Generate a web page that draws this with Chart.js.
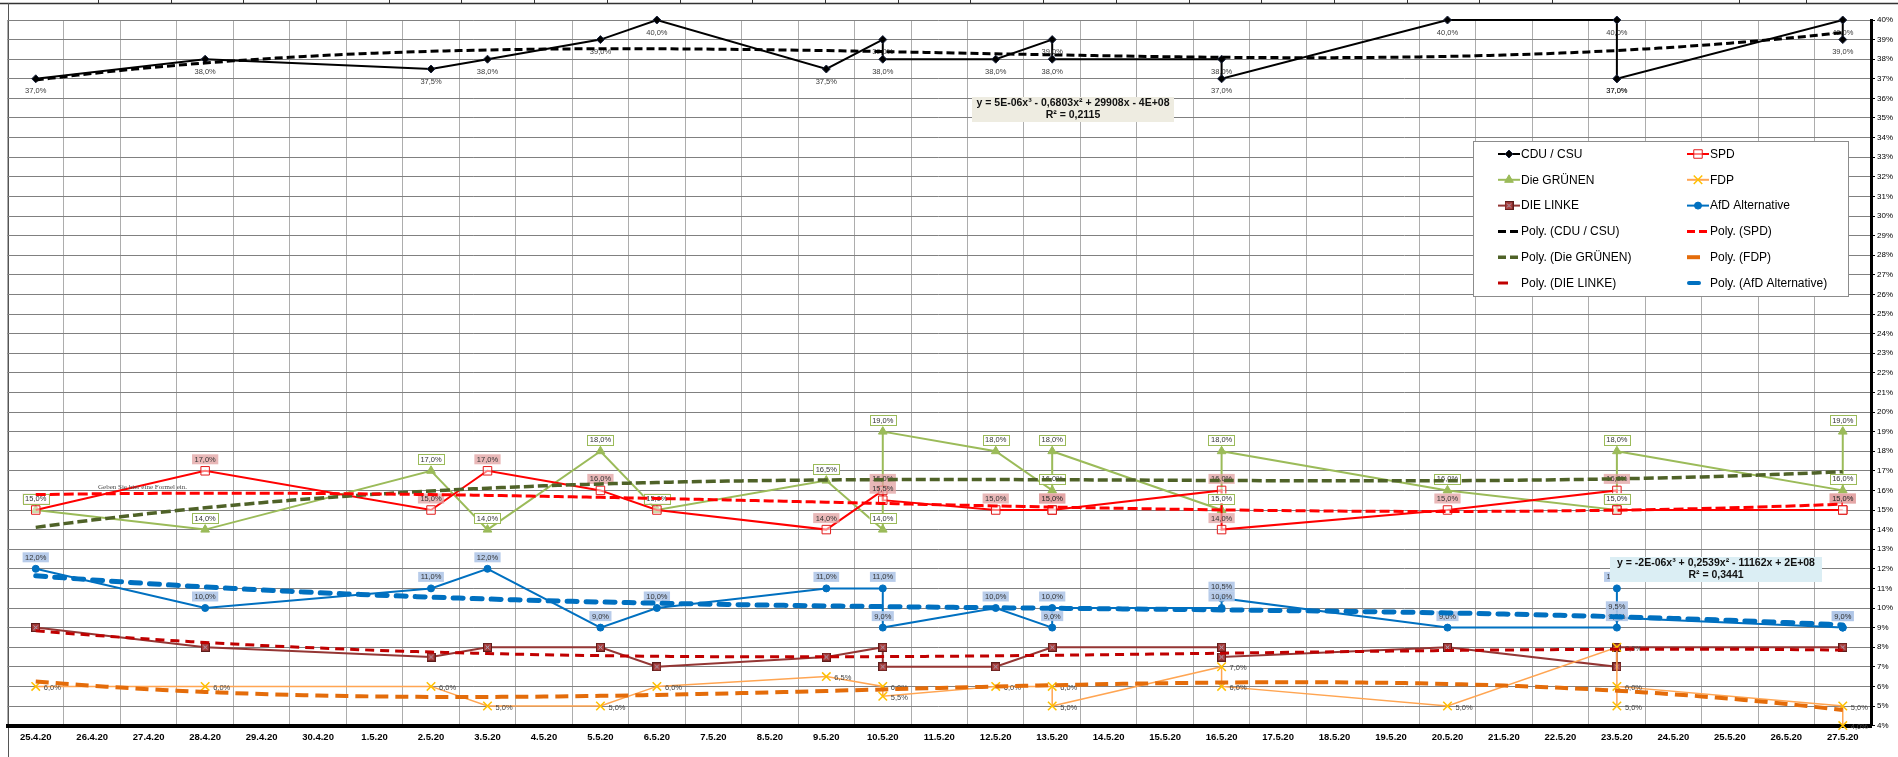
<!DOCTYPE html>
<html>
<head>
<meta charset="utf-8">
<title>Umfragen April / Mai 2020</title>
<script src="https://cdn.jsdelivr.net/npm/chart.js@4.4.1/dist/chart.umd.min.js"></script>
<style>
  html, body { margin: 0; padding: 0; background: #fff; }
  #wrap { width: 1898px; height: 757px; }
</style>
</head>
<body>
<div id="wrap"><canvas id="chart" width="1898" height="757"></canvas></div>
<script>
// Axis categories (one per day)
const dateLabels = [
  '25.4.20', '26.4.20', '27.4.20', '28.4.20', '29.4.20', '30.4.20', '1.5.20',
  '2.5.20', '3.5.20', '4.5.20', '5.5.20', '6.5.20', '7.5.20', '8.5.20',
  '9.5.20', '10.5.20', '11.5.20', '12.5.20', '13.5.20', '14.5.20', '15.5.20',
  '16.5.20', '17.5.20', '18.5.20', '19.5.20', '20.5.20', '21.5.20', '22.5.20',
  '23.5.20', '24.5.20', '25.5.20', '26.5.20', '27.5.20'
];

// Poll dates (several polls can share one day)
const pollDates = [
  '25.4.20', '28.4.20', '2.5.20', '3.5.20', '5.5.20', '6.5.20', '9.5.20',
  '10.5.20', '10.5.20', '12.5.20', '13.5.20', '13.5.20', '16.5.20', '16.5.20',
  '20.5.20', '23.5.20', '23.5.20', '23.5.20', '27.5.20', '27.5.20'
];

// Values in percent, one per poll
const cduCsu = [37, 38, 37.5, 38, 39, 40, 37.5, 39, 38, 38, 39, 38, 38, 37, 40, 40, 37, 37, 40, 39];
const spd    = [15, 17, 15, 17, 16, 15, 14, 16, 15.5, 15, 15, 15, 16, 14, 15, 16, 15, 15, 15, 15];
const gruene = [15, 14, 17, 14, 18, 15, 16.5, 14, 19, 18, 16, 18, 15, 18, 16, 15, 15, 18, 16, 19];
const fdp    = [6, 6, 6, 5, 5, 6, 6.5, 6, 5.5, 6, 6, 5, 7, 6, 5, 8, 5, 6, 5, 4];
const linke  = [9, 8, 7.5, 8, 8, 7, 7.5, 8, 7, 7, 8, 8, 8, 7.5, 8, 7, 8, 8, 8, 8];
const afd    = [12, 10, 11, 12, 9, 10, 11, 11, 9, 10, 9, 10, 10, 10.5, 9, 9, 11, 9.5, 9, 9];

// Value axis ticks (percent)
const yMin = 4;
const yMax = 40;

// Trendline equations as shown in the chart
const cduEquation = ['y = 5E-06x³ - 0,6803x² + 29908x - 4E+08', 'R² = 0,2115'];
const afdEquation = ['y = -2E-06x³ + 0,2539x² - 11162x + 2E+08', 'R² = 0,3441'];

const SANS = '"Liberation Sans", Arial, sans-serif';
const LABEL_FONT = '7.5px ' + SANS;

/**
 * Least squares polynomial fit (same as a spreadsheet "Poly." trendline)
 * @returns {Function} f(x)
 */
function polyFit(xs, ys, degree) {
  const n = degree + 1;
  const s = 32; // scale x for a better conditioned system
  const m = Array.from({ length: n }, () => new Array(n + 1).fill(0));
  xs.forEach((x, k) => {
    const t = x / s;
    for (let i = 0; i < n; i++) {
      for (let j = 0; j < n; j++) m[i][j] += Math.pow(t, i + j);
      m[i][n] += ys[k] * Math.pow(t, i);
    }
  });
  for (let c = 0; c < n; c++) {
    let p = c;
    for (let r = c + 1; r < n; r++) if (Math.abs(m[r][c]) > Math.abs(m[p][c])) p = r;
    [m[c], m[p]] = [m[p], m[c]];
    for (let r = 0; r < n; r++) {
      if (r === c) continue;
      const f = m[r][c] / m[c][c];
      for (let k = c; k <= n; k++) m[r][k] -= f * m[c][k];
    }
  }
  const coef = m.map((row, i) => row[n] / row[i]);
  return x => coef.reduce((sum, a, i) => sum + a * Math.pow(x / s, i), 0);
}

const pollX = pollDates.map(d => dateLabels.indexOf(d));
const toPoints = values => values.map((v, i) => ({ x: pollX[i], y: v }));

function trendPoints(values) {
  const f = polyFit(pollX, values, 3);
  const pts = [];
  const last = dateLabels.length - 1;
  for (let d = 0; d <= last * 4; d++) pts.push({ x: d / 4, y: f(d / 4) });
  return pts;
}

// Marker for DIE LINKE: filled square with a small cross
function linkeMarker() {
  const c = document.createElement('canvas');
  c.width = 9; c.height = 9;
  const g = c.getContext('2d');
  g.fillStyle = '#a83c3a';
  g.fillRect(0, 0, 9, 9);
  g.strokeStyle = '#5e1c1b';
  g.lineWidth = 1;
  g.strokeRect(0.5, 0.5, 8, 8);
  g.strokeStyle = '#aab4cc';
  g.beginPath();
  g.moveTo(2.5, 2.5); g.lineTo(6.5, 6.5);
  g.moveTo(6.5, 2.5); g.lineTo(2.5, 6.5);
  g.stroke();
  return c;
}

function series(label, values, color, point, labelStyle) {
  return Object.assign({
    label: label,
    data: toPoints(values),
    borderColor: color,
    borderWidth: 2,
    order: 2,
    clip: false,
    labelStyle: labelStyle
  }, point);
}

function trend(label, values, color, width, dash, cap, legendDash) {
  return {
    label: label,
    data: trendPoints(values),
    borderColor: color,
    borderWidth: width,
    borderDash: dash,
    borderCapStyle: cap || 'butt',
    legendDash: legendDash || dash,
    pointRadius: 0,
    pointHitRadius: 0,
    order: 1,
    isTrend: true
  };
}

const datasets = [
  series('CDU / CSU', cduCsu, '#000000',
    { pointStyle: 'rectRot', pointRadius: 4, pointBackgroundColor: '#000', pointBorderColor: '#1c2640', pointBorderWidth: 1 },
    { pos: 'below', color: '#3a3a3a' }),
  series('SPD', spd, '#ff0000',
    { pointStyle: 'rect', pointRadius: 6, pointBackgroundColor: 'rgba(255,255,255,0.5)', pointBorderColor: '#e21b1b', pointBorderWidth: 1 },
    { pos: 'above', color: '#333', fill: 'rgba(226,160,160,0.75)' }),
  series('Die GRÜNEN', gruene, '#9bbb59',
    { pointStyle: 'triangle', pointRadius: 5, pointBackgroundColor: '#9bbb59', pointBorderColor: '#9bbb59', pointBorderWidth: 1 },
    { pos: 'above', color: '#333', fill: '#ffffff', stroke: '#9bbb59' }),
  series('FDP', fdp, '#ffa552',
    { borderWidth: 1.5, pointStyle: 'crossRot', pointRadius: 6, pointBackgroundColor: '#ffc000', pointBorderColor: '#ffc000', pointBorderWidth: 1.5 },
    { pos: 'right', color: '#444' }),
  series('DIE LINKE', linke, '#943634',
    { pointStyle: linkeMarker(), pointRadius: 5 },
    null),
  series('AfD Alternative', afd, '#0070c0',
    { pointStyle: 'circle', pointRadius: 3.5, pointBackgroundColor: '#0070c0', pointBorderColor: '#0070c0', pointBorderWidth: 1 },
    { pos: 'above', color: '#333', fill: 'rgba(176,198,232,0.9)' }),
  trend('Poly. (CDU / CSU)', cduCsu, '#000000', 3, [8, 4]),
  trend('Poly. (SPD)', spd, '#ff0000', 3, [10, 4], null, [8, 4]),
  trend('Poly. (Die GRÜNEN)', gruene, '#4f6228', 3.5, [10, 4], null, [8, 4]),
  trend('Poly. (FDP)', fdp, '#e46c0a', 4, [13, 7], null, [13, 30]),
  trend('Poly. (DIE LINKE)', linke, '#c00000', 3, [9, 6], null, [10, 30]),
  trend('Poly. (AfD Alternative)', afd, '#0070c0', 5, [10, 9], 'round', [10, 30])
];

const fmt = v => v.toFixed(1).replace('.', ',') + '%';

function drawLabel(ctx, text, x, y, st) {
  ctx.font = LABEL_FONT;
  const w = ctx.measureText(text).width;
  let cx = x, cy = y;
  if (st.pos === 'below') cy = y + 12;
  else if (st.pos === 'above') cy = y - 11.5;
  else { cx = x + 8 + w / 2; cy = y + 1; }
  if (st.fill) {
    ctx.fillStyle = st.fill;
    ctx.fillRect(cx - w / 2 - 2.5, cy - 5, w + 5, 10);
  }
  if (st.stroke) {
    ctx.strokeStyle = st.stroke;
    ctx.lineWidth = 1;
    ctx.strokeRect(Math.round(cx - w / 2 - 2.5) + 0.5, Math.round(cy - 5) + 0.5, Math.round(w + 5), 10);
  }
  ctx.fillStyle = st.color;
  ctx.textAlign = 'center';
  ctx.textBaseline = 'middle';
  ctx.fillText(text, cx, cy + 0.5);
}

// Sheet background, cell borders round the chart
const sheetPlugin = {
  id: 'sheet',
  beforeDraw(chart) {
    const { ctx, width, height, chartArea } = chart;
    ctx.save();
    ctx.fillStyle = '#fff';
    ctx.fillRect(0, 0, width, height);
    ctx.strokeStyle = '#333';
    ctx.lineWidth = 1.5;
    ctx.beginPath();
    ctx.moveTo(0, 3.5); ctx.lineTo(width, 3.5);
    ctx.stroke();
    ctx.lineWidth = 1;
    ctx.beginPath();
    for (let x = 98; x < 1580; x += 72.7) { ctx.moveTo(Math.round(x) + 0.5, 0); ctx.lineTo(Math.round(x) + 0.5, 3); }
    [1739, 1806].forEach(x => { ctx.moveTo(x + 0.5, 0); ctx.lineTo(x + 0.5, 3); });
    ctx.stroke();
    ctx.strokeStyle = '#555';
    ctx.beginPath();
    ctx.moveTo(Math.round(chartArea.left) + 0.5, 3);
    ctx.lineTo(Math.round(chartArea.left) + 0.5, height);
    ctx.stroke();
    ctx.restore();
  }
};

// Data labels: drawn after the series, below the trendlines
const labelPlugin = {
  id: 'pointLabels',
  beforeDraw(chart) { chart.$labelsDone = false; },
  beforeDatasetDraw(chart, args) {
    if (chart.$labelsDone || !chart.data.datasets[args.index].isTrend) return;
    chart.$labelsDone = true;
    const ctx = chart.ctx;
    ctx.save();
    chart.data.datasets.forEach((ds, i) => {
      if (!ds.labelStyle) return;
      chart.getDatasetMeta(i).data.forEach((pt, j) => {
        drawLabel(ctx, fmt(ds.data[j].y), pt.x, pt.y, ds.labelStyle);
      });
    });
    ctx.restore();
  }
};

// Two column legend box and trendline equation boxes
const overlayPlugin = {
  id: 'overlay',
  afterDraw(chart) {
    const { ctx, chartArea } = chart;
    ctx.save();

    // Equation boxes
    const box = (lines, x, y, w, bg) => {
      ctx.fillStyle = bg;
      ctx.fillRect(x, y, w, 25);
      ctx.fillStyle = '#111';
      ctx.font = 'bold 10.5px ' + SANS;
      ctx.textAlign = 'center';
      ctx.textBaseline = 'middle';
      ctx.fillText(lines[0], x + w / 2, y + 6.5);
      ctx.fillText(lines[1], x + w / 2, y + 18);
    };
    box(cduEquation, 972, 97, 202, '#eeece1');
    box(afdEquation, 1610, 557, 212, '#dbeef4');

    // Placeholder text from the sheet
    ctx.fillStyle = '#4a4a4a';
    ctx.font = '7px "Liberation Serif", "DejaVu Serif", serif';
    ctx.textAlign = 'left';
    ctx.textBaseline = 'middle';
    ctx.fillText('Geben Sie hier eine Formel ein.', 98, 487);

    // Legend
    const lx = chartArea.right - 398, ly = chartArea.top + 121, lw = 375, lh = 155;
    ctx.fillStyle = '#fff';
    ctx.fillRect(lx, ly, lw, lh);
    ctx.strokeStyle = '#8c8c8c';
    ctx.lineWidth = 1;
    ctx.strokeRect(Math.round(lx) + 0.5, ly + 0.5, lw, lh);
    chart.data.datasets.forEach((ds, i) => {
      const col = i % 2, row = Math.floor(i / 2);
      const x0 = lx + (col ? 214 : 25);
      const y0 = ly + 13 + row * 25.8;
      ctx.save();
      ctx.strokeStyle = ds.borderColor;
      ctx.lineWidth = ds.isTrend ? Math.min(ds.borderWidth, 4) : 2;
      ctx.setLineDash(ds.legendDash || []);
      ctx.lineCap = ds.borderCapStyle || 'butt';
      ctx.beginPath();
      ctx.moveTo(x0 + (ds.borderCapStyle === 'round' ? 2 : 0), y0); ctx.lineTo(x0 + 22, y0);
      ctx.stroke();
      ctx.restore();
      if (!ds.isTrend) {
        ctx.save();
        ctx.fillStyle = ds.pointBackgroundColor || ds.borderColor;
        ctx.strokeStyle = ds.pointBorderColor || ds.borderColor;
        ctx.lineWidth = ds.pointBorderWidth || 1;
        Chart.helpers.drawPoint(ctx, { pointStyle: ds.pointStyle, radius: ds.pointRadius, rotation: 0, borderWidth: ds.pointBorderWidth || 1 }, x0 + 11, y0);
        ctx.restore();
      }
      ctx.fillStyle = '#000';
      ctx.font = '12px ' + SANS;
      ctx.textAlign = 'left';
      ctx.textBaseline = 'middle';
      ctx.fillText(ds.label, x0 + 23, y0 + 0.5);
    });
    ctx.restore();
  }
};

new Chart(document.getElementById('chart'), {
  type: 'line',
  data: { datasets: datasets },
  options: {
    responsive: false,
    devicePixelRatio: 1,
    animation: false,
    layout: { padding: { left: 7, top: 20, right: 0, bottom: 0 } },
    plugins: {
      legend: { display: false },
      tooltip: { enabled: false }
    },
    scales: {
      x: {
        type: 'linear',
        min: -0.5,
        max: dateLabels.length - 0.5,
        afterBuildTicks(scale) {
          const ticks = [];
          for (let v = -0.5; v <= dateLabels.length - 0.5; v += 0.5) ticks.push({ value: v });
          scale.ticks = ticks;
        },
        afterFit(scale) { scale.height = 31.4; },
        grid: {
          color: c => (c.tick && Number.isInteger(c.tick.value)) ? 'rgba(0,0,0,0)' : '#adadad',
          lineWidth: 1,
          drawTicks: false
        },
        border: { color: '#000', width: 4 },
        ticks: {
          autoSkip: false,
          maxRotation: 0,
          minRotation: 0,
          padding: 6,
          color: '#000',
          font: { family: SANS, size: 9.5, weight: 'bold' },
          callback: v => Number.isInteger(v) ? dateLabels[v] : ''
        }
      },
      y: {
        type: 'linear',
        position: 'right',
        min: yMin,
        max: yMax,
        afterFit(scale) { scale.width = 27; },
        grid: { color: '#808080', lineWidth: 1, tickLength: 4, tickColor: '#000' },
        border: { color: '#000', width: 3 },
        ticks: {
          stepSize: 1,
          autoSkip: false,
          padding: 2,
          color: '#000',
          font: { family: SANS, size: 8 },
          callback: v => v + '%'
        }
      }
    }
  },
  plugins: [sheetPlugin, labelPlugin, overlayPlugin]
});
</script>
</body>
</html>
